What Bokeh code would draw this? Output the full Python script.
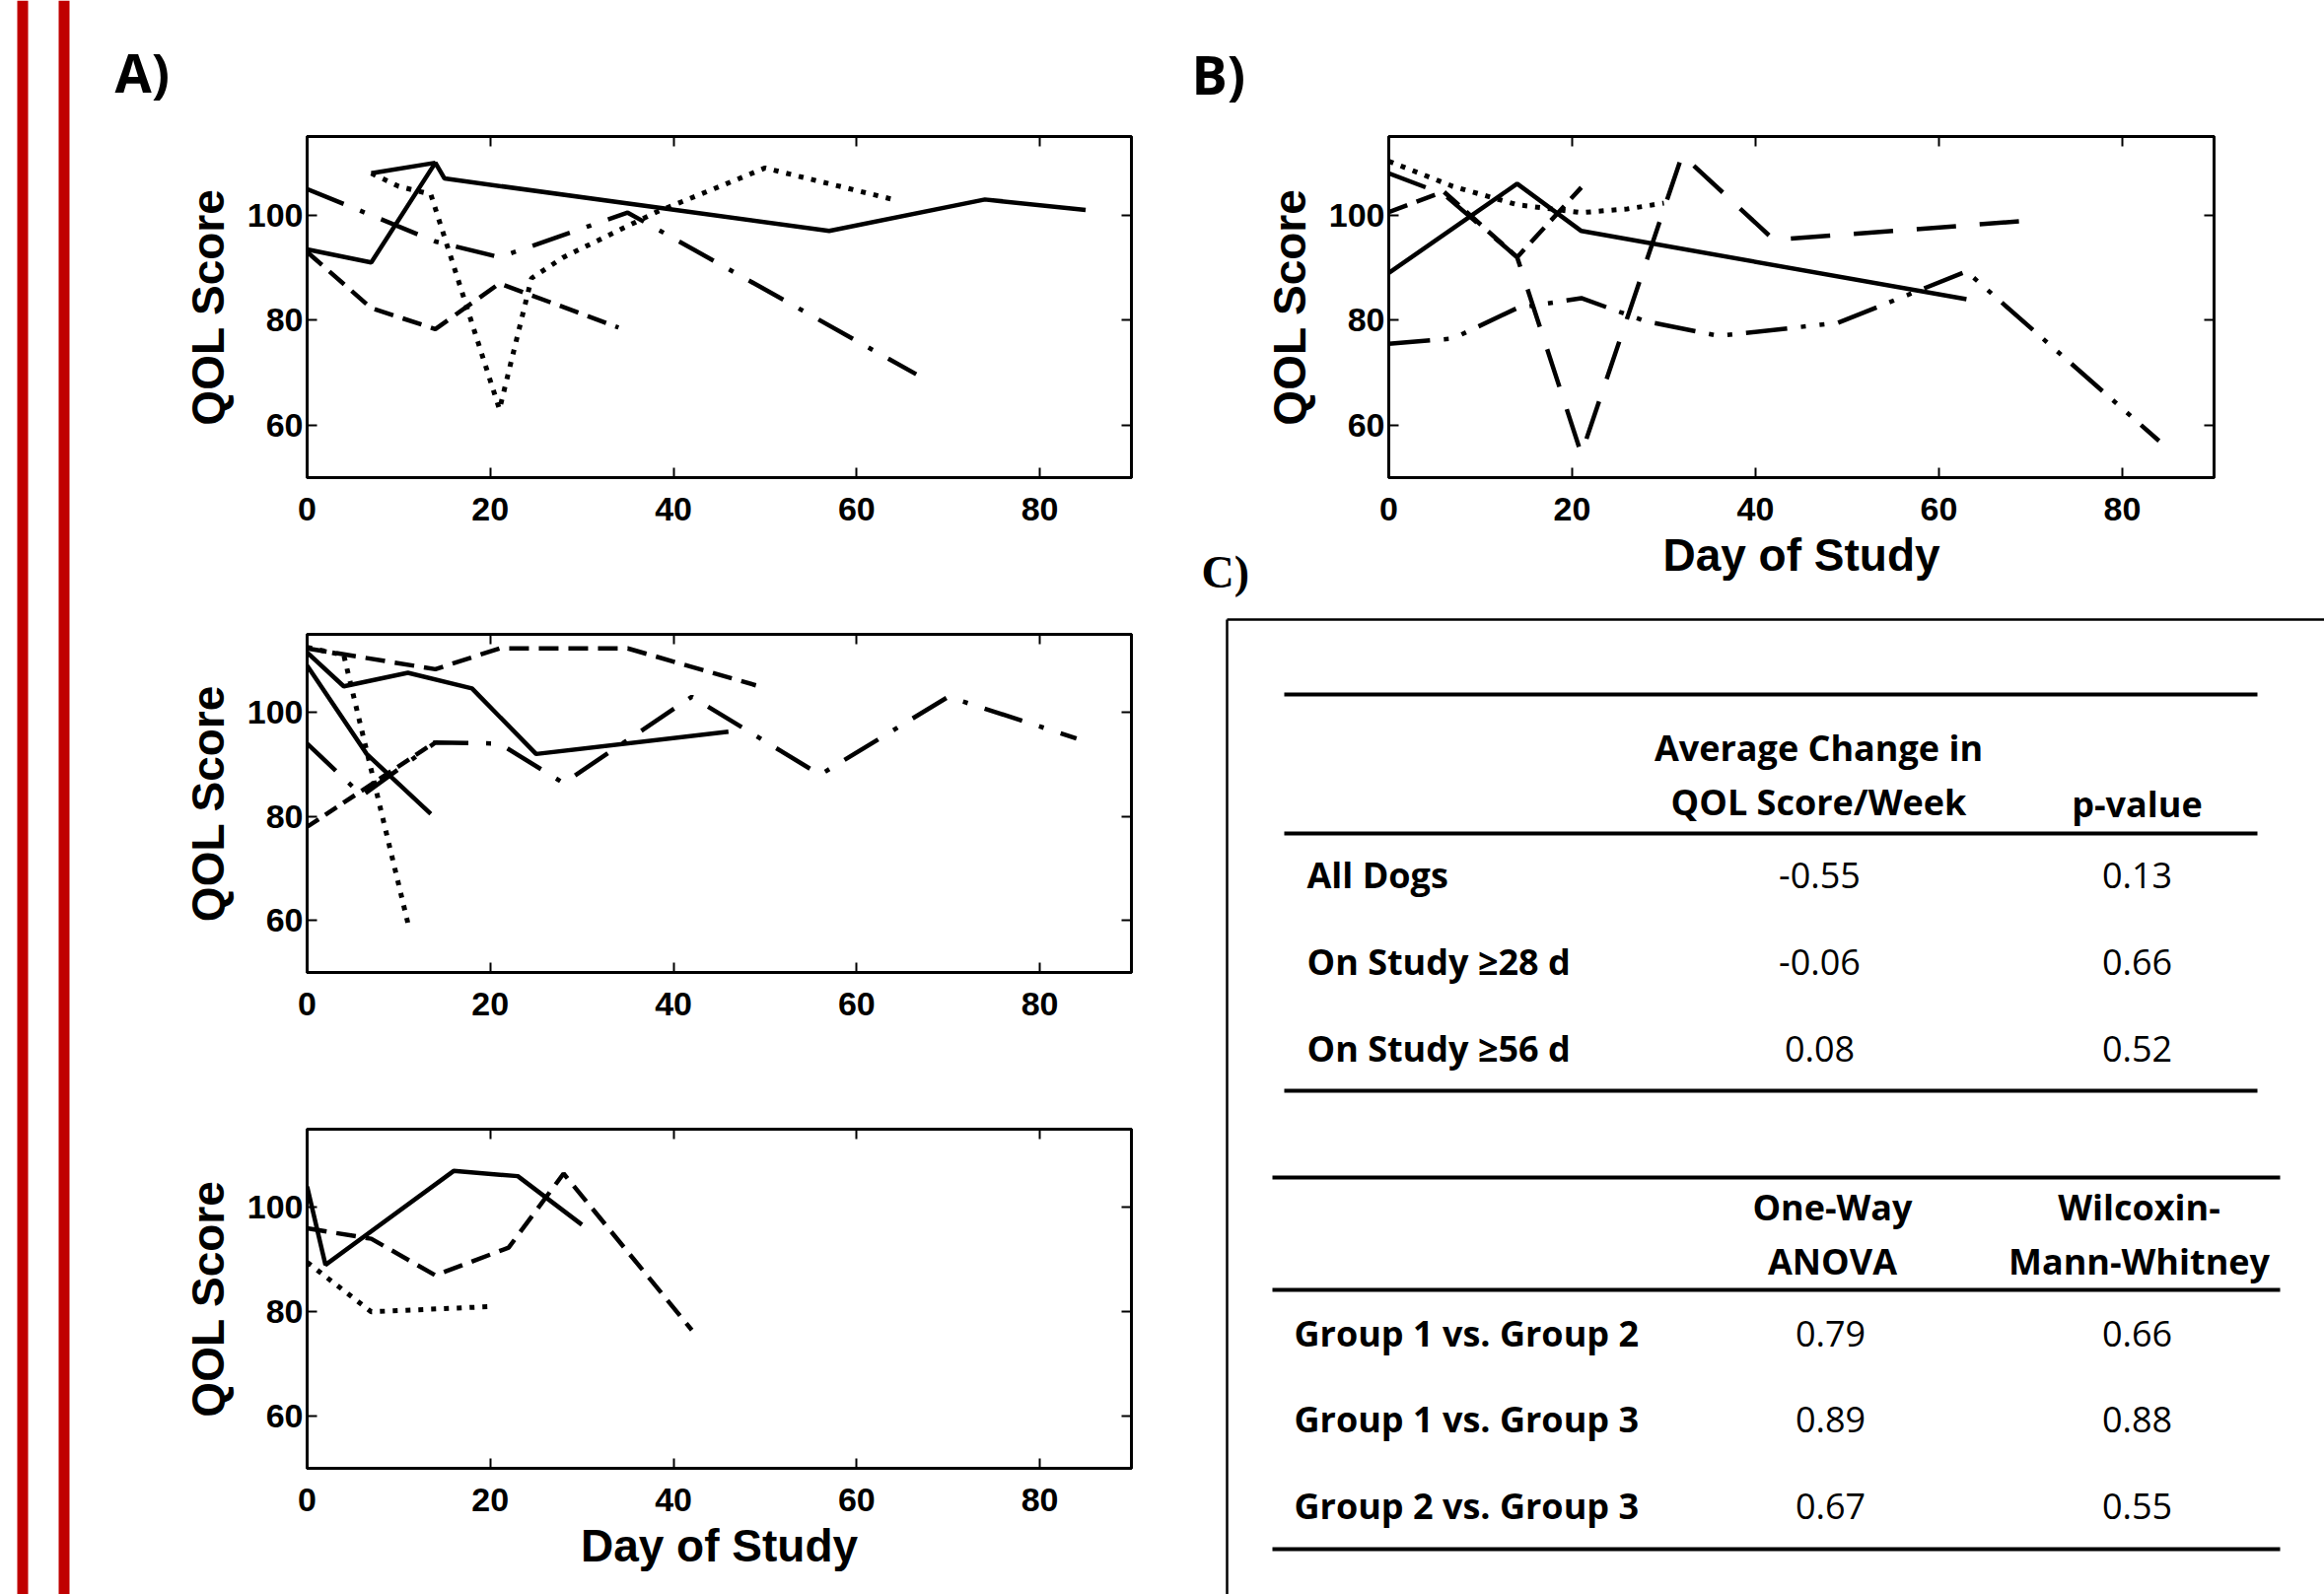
from bokeh.plotting import figure
from bokeh.layouts import row, column
from bokeh.models import Range1d, LinearAxis, FixedTicker, CustomJSTickFormatter
from bokeh.embed import file_html
from bokeh.resources import INLINE
from bokeh.core.properties import value

# ---------------- data (day of study, QOL score) ----------------
X_TICKS = [0, 20, 40, 60, 80]
Y_TICKS = [60, 80, 100]

# Panel A, group 1
a1_solid_x = [0, 7, 14, 15, 57, 74, 85]
a1_solid_y = [93.5, 91, 110, 107, 97, 103, 101]
a1_solid2_x = [7, 14]
a1_solid2_y = [108, 110]
a1_dot_x = [7, 10, 13.5, 21, 24.5, 28, 38, 50, 64]
a1_dot_y = [108, 105.5, 104, 63, 88, 92, 100.5, 109, 103]
a1_dash_x = [0, 7, 14, 21, 34]
a1_dash_y = [93, 82.3, 78.3, 87, 78.6]
a1_dashdot_x = [0, 14, 21, 35, 66.5]
a1_dashdot_y = [105, 95, 92, 100.5, 69.7]

# Panel A, group 2
a2_solid_x = [0, 4, 11, 18, 25, 46]
a2_solid_y = [111.5, 105, 107.6, 104.6, 92, 96.3]
a2_solid2_x = [0, 6.5, 13.5]
a2_solid2_y = [109, 92, 80.5]
a2_dot_x = [0, 4, 11]
a2_dot_y = [112.5, 111, 59.5]
a2_dash_x = [0, 14, 21, 35, 49]
a2_dash_y = [112.3, 108.3, 112.3, 112.3, 105.2]
a2_dash2_x = [0, 14]
a2_dash2_y = [78, 94.3]
a2_dashdot_x = [0, 6, 14, 21, 28, 42, 56, 70, 84]
a2_dashdot_y = [94, 84, 94.2, 94, 86.4, 103, 88, 103, 95]

# Panel A, group 3
a3_solid_x = [0, 2, 16, 23, 30]
a3_solid_y = [104, 89, 107, 106, 96.7]
a3_dash_x = [0, 7, 14, 22, 28, 42]
a3_dash_y = [96, 94, 87, 92.3, 106.5, 76.5]
a3_dot_x = [0, 7, 20]
a3_dot_y = [89.5, 80, 81]

# Panel B
b_solid_x = [0, 14, 21, 63]
b_solid_y = [89, 106, 97, 84]
b_dot_x = [0, 7, 14, 21, 26, 30]
b_dot_y = [110.3, 105.5, 102, 100.5, 101.2, 102.3]
b_dash_x = [0, 6, 14, 21]
b_dash_y = [100.6, 104.5, 92, 105.3]
b_longdash_x = [0, 6, 14, 21, 32, 42, 70]
b_longdash_y = [108, 104, 92, 54.5, 111.5, 95.3, 99]
b_dd_x = [0, 7, 14, 21, 28, 36, 49, 63, 84]
b_dd_y = [75.5, 76.5, 82.3, 84.2, 79.8, 77, 79.5, 89.3, 57]

# Panel C tables
t1_head_c1 = ["Average Change in", "QOL Score/Week"]
t1_head_c2 = ["p-value"]
t1_rows = ["All Dogs", "On Study \u226528 d", "On Study \u226556 d"]
t1_change = ["-0.55", "-0.06", "0.08"]
t1_p = ["0.13", "0.66", "0.52"]

t2_head_c1 = ["One-Way", "ANOVA"]
t2_head_c2 = ["Wilcoxin-", "Mann-Whitney"]
t2_rows = ["Group 1 vs. Group 2", "Group 1 vs. Group 3", "Group 2 vs. Group 3"]
t2_anova = ["0.79", "0.89", "0.67"]
t2_wmw = ["0.66", "0.88", "0.55"]

# ---------------- styling ----------------
AX_FONT = "Liberation Sans"
TAB_FONT = "Open Sans"
LW = 4.5
STYLES = {
    "solid": dict(line_dash="solid", line_width=LW),
    "dot": dict(line_dash="5 8", line_width=5),
    "dash": dict(line_dash="20 10", line_width=LW),
    "dash2": dict(line_dash="14 8", line_width=LW),
    "longdash": dict(line_dash="40 24", line_width=LW),
    "dashdot": dict(line_dash="40 18 5 18", line_width=LW),
    "dashdotdot": dict(line_dash="42 14 5 14 5 14", line_width=LW),
}

X_RANGE = (0, 90)
Y_RANGE = (50, 115)


def no_align(p):
    if "frame_align" in p.properties():
        p.frame_align = False


def pixel_fig(x0, x1, y0, y1):
    # a figure whose data coordinates are page pixels (y downwards)
    p = figure(width=x1 - x0, height=y1 - y0, x_range=Range1d(x0, x1),
               y_range=Range1d(y1, y0), min_border=0,
               x_axis_location=None, y_axis_location=None,
               output_backend="svg", toolbar_location=None)
    p.grid.visible = False
    p.outline_line_color = None
    no_align(p)
    return p


def make_panel(width, height, left, right, top, bottom, xlabel=None):
    p = figure(width=width, height=height,
               x_range=Range1d(*X_RANGE), y_range=Range1d(*Y_RANGE),
               output_backend="svg", toolbar_location=None,
               min_border_left=left, min_border_right=right,
               min_border_top=top, min_border_bottom=bottom)
    no_align(p)
    p.grid.visible = False
    p.outline_line_color = "black"
    p.outline_line_width = 3
    for ax, ticks in ((p.xaxis[0], X_TICKS), (p.yaxis[0], Y_TICKS)):
        ax.ticker = FixedTicker(ticks=ticks)
        ax.major_tick_in = 10
        ax.major_tick_out = 0
        ax.minor_tick_line_color = None
        ax.axis_line_width = 3
        ax.major_tick_line_width = 2
        ax.major_label_text_font = AX_FONT
        ax.major_label_text_font_style = "bold"
        ax.major_label_text_font_size = "34px"
        ax.major_label_text_color = "black"
        ax.axis_label_text_font = AX_FONT
        ax.axis_label_text_font_style = "bold"
        ax.axis_label_text_font_size = "46px"
        ax.axis_label_text_color = "black"
    p.xaxis[0].major_label_standoff = 20
    p.yaxis[0].major_label_standoff = 4
    p.yaxis[0].axis_label = "QOL Score"
    p.yaxis[0].axis_label_standoff = 11
    if xlabel:
        p.xaxis[0].axis_label = xlabel
        p.xaxis[0].axis_label_standoff = 6
    blank = CustomJSTickFormatter(code="return ''")
    for loc, ticks in (("right", Y_TICKS), ("above", X_TICKS)):
        ax = LinearAxis(ticker=FixedTicker(ticks=ticks), formatter=blank,
                        major_tick_in=10, major_tick_out=0,
                        minor_tick_line_color=None, axis_line_width=3,
                        major_tick_line_width=2, major_label_standoff=0,
                        major_label_text_font_size="1px")
        p.add_layout(ax, loc)
    return p


def draw(p, xs, ys, style):
    p.line(xs, ys, line_color="black", **STYLES[style])


panel_label = dict(text_font=value("Open Sans"), text_font_size="54px",
                   text_font_style="bold", text_color="black",
                   text_align="left", text_baseline="middle")

# ---------------- left decoration strip with "A)" ----------------
bars = pixel_fig(0, 180, 0, 1617)
bars.quad(left=[17, 59], right=[28, 70], top=[0, 0], bottom=[1617, 1617],
          fill_color="#C00000", line_color=None)
bars.text(x=[116], y=[72], text=["A)"], **panel_label)

# ---------------- panel A ----------------
pA1 = make_panel(1000, 580, 131, 33, 138, 96)
draw(pA1, a1_solid_x, a1_solid_y, "solid")
draw(pA1, a1_solid2_x, a1_solid2_y, "solid")
draw(pA1, a1_dot_x, a1_dot_y, "dot")
draw(pA1, a1_dash_x, a1_dash_y, "dash")
draw(pA1, a1_dashdot_x, a1_dashdot_y, "dashdot")

pA2 = make_panel(1000, 500, 131, 33, 63, 94)
draw(pA2, a2_solid_x, a2_solid_y, "solid")
draw(pA2, a2_solid2_x, a2_solid2_y, "solid")
draw(pA2, a2_dot_x, a2_dot_y, "dot")
draw(pA2, a2_dash_x, a2_dash_y, "dash")
draw(pA2, a2_dash2_x, a2_dash2_y, "dash2")
draw(pA2, a2_dashdot_x, a2_dashdot_y, "dashdot")

pA3 = make_panel(1000, 537, 131, 33, 65, 128, xlabel="Day of Study")
draw(pA3, a3_solid_x, a3_solid_y, "solid")
draw(pA3, a3_dash_x, a3_dash_y, "dash")
draw(pA3, a3_dot_x, a3_dot_y, "dot")

# ---------------- strip with "B)" and "C)" ----------------
bstrip = pixel_fig(1180, 1275, 0, 610)
bstrip.text(x=[1208], y=[74], text=["B)"], **panel_label)
bstrip.text(x=[1218], y=[580], text=["C)"], text_font=value("Liberation Serif"),
            text_font_size="46px", text_font_style="bold", text_color="black",
            text_align="left", text_baseline="middle")

# ---------------- panel B ----------------
pB = make_panel(1082, 610, 133, 112, 138, 126, xlabel="Day of Study")
draw(pB, b_solid_x, b_solid_y, "solid")
draw(pB, b_dot_x, b_dot_y, "dot")
draw(pB, b_dash_x, b_dash_y, "dash")
draw(pB, b_longdash_x, b_longdash_y, "longdash")
draw(pB, b_dd_x, b_dd_y, "dashdotdot")

# ---------------- panel C (tables), page-pixel coordinates ----------------
tab = pixel_fig(1180, 2357, 610, 1617)
tab.segment(x0=[1244, 1244], y0=[628, 628], x1=[1244, 2370], y1=[1630, 628],
            line_color="black", line_width=2.5)
tab.segment(x0=[1302] * 3, x1=[2289] * 3, y0=[704, 845, 1106], y1=[704, 845, 1106],
            line_color="black", line_width=4)
tab.segment(x0=[1290] * 3, x1=[2312] * 3, y0=[1194, 1308, 1571], y1=[1194, 1308, 1571],
            line_color="black", line_width=4)

bold = dict(text_font=value(TAB_FONT), text_font_size="36px",
            text_font_style="bold", text_color="black", text_baseline="middle")
norm = dict(text_font=value(TAB_FONT), text_font_size="36px",
            text_font_style="normal", text_color="black", text_baseline="middle")

T1_ROW_Y = [887, 975, 1063]
T2_ROW_Y = [1352, 1439, 1527]

tab.text(x=[1844, 1844], y=[758, 813], text=t1_head_c1, text_align="center", **bold)
tab.text(x=[2167], y=[815], text=t1_head_c2, text_align="center", **bold)
tab.text(x=[1325] * 3, y=T1_ROW_Y, text=t1_rows, text_align="left", **bold)
tab.text(x=[1845] * 3, y=T1_ROW_Y, text=t1_change, text_align="center", **norm)
tab.text(x=[2167] * 3, y=T1_ROW_Y, text=t1_p, text_align="center", **norm)

tab.text(x=[1858, 1858], y=[1224, 1279], text=t2_head_c1, text_align="center", **bold)
tab.text(x=[2169, 2169], y=[1224, 1279], text=t2_head_c2, text_align="center", **bold)
tab.text(x=[1312] * 3, y=T2_ROW_Y, text=t2_rows, text_align="left", **bold)
tab.text(x=[1856] * 3, y=T2_ROW_Y, text=t2_anova, text_align="center", **norm)
tab.text(x=[2167] * 3, y=T2_ROW_Y, text=t2_wmw, text_align="center", **norm)

layout = row(bars, column(pA1, pA2, pA3), column(row(bstrip, pB), tab))

open("out.html", "w").write(file_html(layout, INLINE))
